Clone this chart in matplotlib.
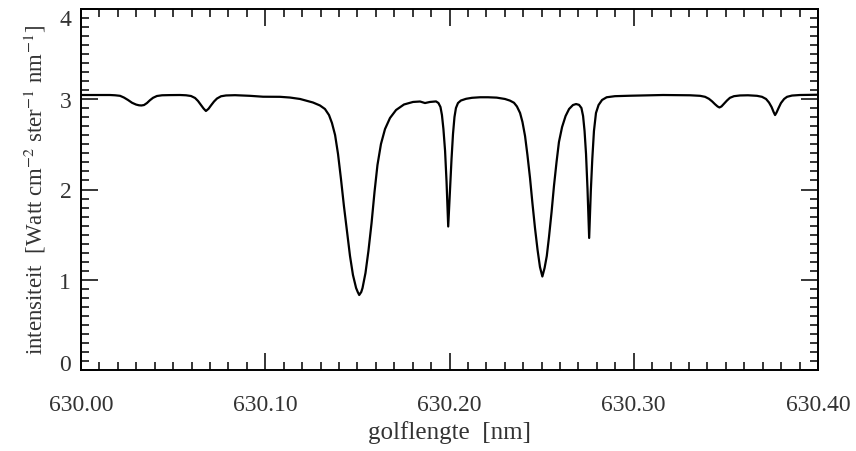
import numpy as np
import matplotlib
matplotlib.use("Agg")
import matplotlib.pyplot as plt
from matplotlib.ticker import MultipleLocator

# spectrum (wavelength in nm, intensity)
wavelength = [
    630.0000, 630.0103, 630.0157,
    # small dip near 630.03
    630.0185, 630.0212, 630.0233, 630.0255, 630.0277, 630.0299, 630.0315, 630.0328,
    630.0342, 630.0358, 630.0374, 630.0391, 630.0412, 630.0440, 630.0483, 630.0537,
    # small dip near 630.07
    630.0570, 630.0597, 630.0619, 630.0635, 630.0651, 630.0665, 630.0678, 630.0692,
    630.0706, 630.0722, 630.0738, 630.0760, 630.0787,
    630.0836, 630.0917, 630.0988, 630.1080, 630.1134,
    # Fe I 630.15
    630.1189, 630.1259, 630.1297, 630.1324, 630.1346, 630.1362, 630.1379, 630.1395,
    630.1411, 630.1427, 630.1444, 630.1460, 630.1476, 630.1493, 630.1502, 630.1510,
    630.1521, 630.1528, 630.1544, 630.1560, 630.1577, 630.1593, 630.1609, 630.1628,
    630.1650, 630.1677, 630.1710, 630.1753, 630.1802, 630.1840, 630.1867, 630.1894,
    # telluric 630.20
    630.1927, 630.1940, 630.1951, 630.1959, 630.1967, 630.1976, 630.1984, 630.1993,
    630.2003, 630.2011, 630.2019, 630.2027, 630.2035, 630.2046, 630.2062, 630.2090,
    630.2122, 630.2166, 630.2209,
    # Fe I 630.25
    630.2256, 630.2301, 630.2328, 630.2350, 630.2366, 630.2383, 630.2396, 630.2410,
    630.2423, 630.2437, 630.2450, 630.2464, 630.2478, 630.2491, 630.2504, 630.2516,
    630.2528, 630.2540, 630.2554, 630.2567, 630.2581, 630.2594, 630.2611, 630.2630,
    630.2649, 630.2670, 630.2687, 630.2703,
    # telluric 630.276
    630.2716, 630.2725, 630.2733, 630.2741, 630.2749, 630.2758, 630.2767, 630.2775,
    630.2784, 630.2795, 630.2809, 630.2828, 630.2853, 630.2898, 630.2980, 630.3159,
    630.3305,
    # small dip near 630.347
    630.3360, 630.3387, 630.3408, 630.3425, 630.3441, 630.3455, 630.3465, 630.3476,
    630.3490, 630.3506, 630.3522, 630.3544, 630.3577, 630.3620,
    # small dip near 630.377
    630.3669, 630.3696, 630.3718, 630.3734, 630.3748, 630.3759, 630.3767, 630.3775,
    630.3786, 630.3799, 630.3816, 630.3832, 630.3859, 630.3902, 630.3957, 630.4000,
]
intensity = [
    3.047, 3.047, 3.047,
    3.044, 3.038, 3.019, 2.992, 2.961, 2.941, 2.933, 2.931,
    2.936, 2.958, 2.989, 3.016, 3.036, 3.044, 3.046, 3.047,
    3.044, 3.036, 3.014, 2.981, 2.936, 2.898, 2.870, 2.894,
    2.933, 2.975, 3.008, 3.033, 3.042,
    3.045, 3.038, 3.028, 3.027, 3.019,
    3.003, 2.964, 2.931, 2.892, 2.825, 2.737, 2.604, 2.393,
    2.116, 1.817, 1.529, 1.263, 1.053, 0.909, 0.864, 0.831,
    0.864, 0.909, 1.075, 1.319, 1.629, 1.972, 2.271, 2.504,
    2.670, 2.792, 2.881, 2.942, 2.970, 2.975, 2.958, 2.970,
    2.976, 2.958, 2.914, 2.825, 2.670, 2.427, 2.083, 1.590,
    2.006, 2.338, 2.615, 2.803, 2.903, 2.958, 2.986, 3.005,
    3.016, 3.022, 3.022,
    3.018, 3.003, 2.985, 2.961, 2.920, 2.848, 2.748, 2.593,
    2.382, 2.127, 1.850, 1.573, 1.330, 1.141, 1.036, 1.130,
    1.263, 1.474, 1.751, 2.039, 2.305, 2.526, 2.692, 2.814,
    2.892, 2.936, 2.947, 2.938,
    2.903, 2.814, 2.648, 2.393, 2.006, 1.463, 1.983, 2.338,
    2.648, 2.848, 2.936, 2.992, 3.022, 3.034, 3.039, 3.047,
    3.044,
    3.038, 3.027, 3.005, 2.977, 2.945, 2.920, 2.909, 2.920,
    2.950, 2.986, 3.016, 3.034, 3.042, 3.044,
    3.038, 3.027, 3.003, 2.964, 2.914, 2.859, 2.825, 2.853,
    2.903, 2.958, 3.003, 3.027, 3.041, 3.047, 3.049, 3.050,
]

x_ticks = [630.00, 630.10, 630.20, 630.30, 630.40]
x_ticklabels = ["630.00", "630.10", "630.20", "630.30", "630.40"]
y_ticks = [0, 1, 2, 3, 4]

plt.rcParams["font.family"] = ["Liberation Serif", "DejaVu Serif"]
plt.rcParams["mathtext.fontset"] = "stix"

fig = plt.figure(figsize=(8.56, 4.52), dpi=100)
ax = fig.add_axes([81 / 856, 1 - 371 / 452, 737 / 856, 361 / 452])

ax.plot(wavelength, intensity, color="black", lw=1.6)

ax.set_xlim(630.0, 630.4)
ax.set_ylim(0, 4)
ax.set_xticks(x_ticks)
ax.set_xticklabels(x_ticklabels)
ax.set_yticks(y_ticks)
ax.xaxis.set_minor_locator(MultipleLocator(0.01))
ax.yaxis.set_minor_locator(MultipleLocator(0.1))

ax.tick_params(which="both", direction="in", top=True, right=True,
               colors="black", labelcolor="#333333", labelsize=17)
ax.tick_params(axis="x", which="both", pad=17)
ax.tick_params(axis="y", which="both", pad=7)
ax.tick_params(which="major", length=12, width=1.1)
ax.tick_params(which="minor", length=6, width=1.1)
for s in ax.spines.values():
    s.set_linewidth(1.4)

# end labels sit inside the axis range, like the original
ylabs = ax.get_yticklabels()
ylabs[0].set_verticalalignment("baseline")
ylabs[-1].set_verticalalignment("top")

ax.set_xlabel("golflengte  [nm]", fontsize=18, color="#333333", labelpad=4)
ax.set_ylabel(r"intensiteit  [Watt cm$^{-2}$ ster$^{-1}$ nm$^{-1}$]",
              fontsize=16.5, color="#333333", labelpad=8)

fig.savefig("out.png", dpi=100)
